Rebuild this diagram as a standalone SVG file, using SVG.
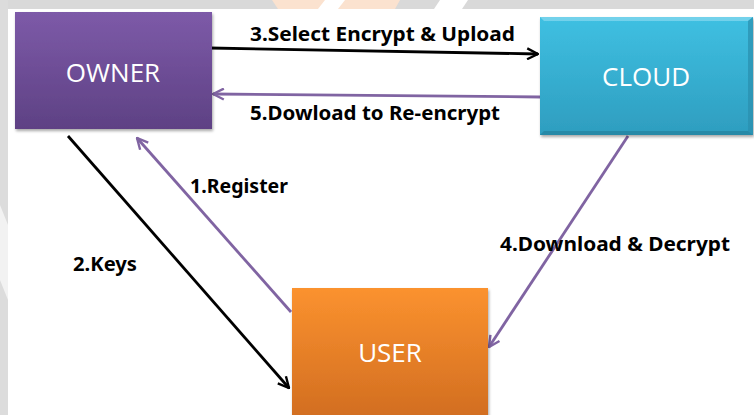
<svg xmlns="http://www.w3.org/2000/svg" width="754" height="415" viewBox="0 0 754 415">
  <defs>
    <linearGradient id="gOwner" x1="0" y1="0" x2="0" y2="1">
      <stop offset="0" stop-color="#7d5aa8"/>
      <stop offset="1" stop-color="#5e4184"/>
    </linearGradient>
    <linearGradient id="gCloud" x1="0" y1="0" x2="0" y2="1">
      <stop offset="0" stop-color="#3fc0e2"/>
      <stop offset="1" stop-color="#2e9dbf"/>
    </linearGradient>
    <linearGradient id="gUser" x1="0" y1="0" x2="0" y2="1">
      <stop offset="0" stop-color="#fb922f"/>
      <stop offset="1" stop-color="#d06c20"/>
    </linearGradient>
    <filter id="shadow" x="-10%" y="-10%" width="125%" height="130%">
      <feGaussianBlur in="SourceAlpha" stdDeviation="1.5"/>
      <feOffset dx="1" dy="2" result="b"/>
      <feComponentTransfer><feFuncA type="linear" slope="0.35"/></feComponentTransfer>
      <feMerge><feMergeNode/><feMergeNode in="SourceGraphic"/></feMerge>
    </filter>
    <marker id="arrBlack" viewBox="0 0 12 12" refX="11" refY="6" markerWidth="13" markerHeight="13" markerUnits="userSpaceOnUse" orient="auto">
      <path d="M1,1 L11,6 L1,11" fill="none" stroke="#000" stroke-width="2.2" stroke-linejoin="miter"/>
    </marker>
    <marker id="arrPurple" viewBox="0 0 12 12" refX="11" refY="6" markerWidth="13" markerHeight="13" markerUnits="userSpaceOnUse" orient="auto">
      <path d="M1,1 L11,6 L1,11" fill="none" stroke="#8064a2" stroke-width="2.2" stroke-linejoin="miter"/>
    </marker>
  </defs>
  <style>
    .node-label { font-family: "Open Sans", "Noto Sans", "DejaVu Sans", sans-serif; font-size: 26px; fill: #ffffff; text-anchor: middle; }
    .edge-label { font-family: "Noto Sans", "DejaVu Sans", sans-serif; font-size: 19px; font-weight: bold; fill: #000000; }
    .black { stroke: #000000; stroke-width: 2.8; fill: none; marker-end: url(#arrBlack); }
    .purple { stroke: #8064a2; stroke-width: 2.8; fill: none; marker-end: url(#arrPurple); }
  </style>

  <!-- background -->
  <rect x="0" y="0" width="754" height="415" fill="#ffffff"/>
  <rect x="0" y="0" width="754" height="9" fill="#d9d9d9"/>
  <rect x="0" y="0" width="8" height="415" fill="#dcdcdc"/>
  <polygon points="0,205 8,225 8,300 0,280" fill="#f2f2f2"/>
  <polygon points="272,0 400,0 395,9 278,9" fill="#fbe2cf"/>
  <polygon points="325,0 345,0 338,9 318,9" fill="#ffffff"/>
  <polygon points="440,0 468,0 462,9 434,9" fill="#ffffff"/>

  <!-- connectors -->
  <g id="connectors">
    <line class="black" x1="210" y1="48" x2="538" y2="54"/>
    <line class="purple" x1="540" y1="97" x2="213" y2="94"/>
    <line class="purple" x1="291" y1="312" x2="137" y2="138"/>
    <line class="black" x1="68" y1="136" x2="289" y2="388"/>
    <line class="purple" x1="628" y1="136" x2="489" y2="347"/>
  </g>

  <!-- nodes -->
  <g id="owner">
    <rect x="15" y="12" width="197" height="117" fill="url(#gOwner)" filter="url(#shadow)"/>
    <text class="node-label" x="113" y="82">OWNER</text>
  </g>
  <g id="cloud">
    <rect x="540" y="17" width="213" height="118" fill="url(#gCloud)" filter="url(#shadow)"/>
    <polygon points="540,17 753,17 748,21 544,21" fill="#7fd6ee" opacity="0.8"/>
    <polygon points="748,21 753,17 753,135 748,131" fill="#2a8fae" opacity="0.7"/>
    <polygon points="544,131 748,131 753,135 540,135" fill="#24809c" opacity="0.7"/>
    <text class="node-label" x="646" y="86">CLOUD</text>
  </g>
  <g id="user">
    <rect x="292" y="288" width="196" height="135" fill="url(#gUser)" filter="url(#shadow)"/>
    <text class="node-label" x="390" y="362">USER</text>
  </g>

  <!-- edge labels -->
  <g id="labels">
    <text class="edge-label" x="250" y="41" textLength="265" lengthAdjust="spacingAndGlyphs">3.Select Encrypt &amp; Upload</text>
    <text class="edge-label" x="250" y="120" textLength="250" lengthAdjust="spacingAndGlyphs">5.Dowload to Re-encrypt</text>
    <text class="edge-label" x="190" y="193" textLength="98" lengthAdjust="spacingAndGlyphs">1.Register</text>
    <text class="edge-label" x="73" y="271" textLength="64" lengthAdjust="spacingAndGlyphs">2.Keys</text>
    <text class="edge-label" x="500" y="251" textLength="230" lengthAdjust="spacingAndGlyphs">4.Download &amp; Decrypt</text>
  </g>
</svg>
